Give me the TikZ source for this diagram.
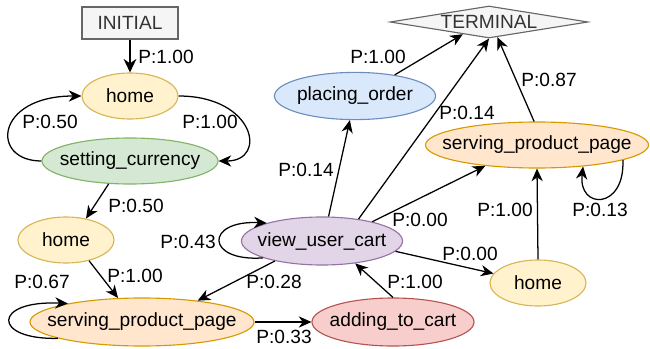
\documentclass[tikz,border=0pt]{standalone}
\usepackage{fontspec}
\setmainfont{Liberation Sans}
\usepackage{tikz}
\usetikzlibrary{shapes.geometric,arrows.meta}
\definecolor{homefill}{HTML}{FFF2CC}
\definecolor{homeline}{HTML}{D6B656}
\definecolor{curfill}{HTML}{D5E8D4}
\definecolor{curline}{HTML}{82B366}
\definecolor{pagefill}{HTML}{FFE6CC}
\definecolor{pageline}{HTML}{D79B00}
\definecolor{cartfill}{HTML}{E1D5E7}
\definecolor{cartline}{HTML}{9673A6}
\definecolor{addfill}{HTML}{F8CECC}
\definecolor{addline}{HTML}{B85450}
\definecolor{orderfill}{HTML}{DAE8FC}
\definecolor{orderline}{HTML}{6C8EBF}
\definecolor{endfill}{HTML}{F5F5F5}
\definecolor{endline}{HTML}{666666}
\definecolor{endtext}{HTML}{333333}
\tikzset{
  st/.style={ellipse, draw, line width=0.8pt, inner sep=0pt, minimum height=1.15cm},
  homest/.style={st, fill=homefill, draw=homeline, minimum width=2.4cm},
  curst/.style={st, fill=curfill, draw=curline, minimum width=4.4cm},
  pagest/.style={st, fill=pagefill, draw=pageline, minimum width=5.6cm, minimum height=1.2cm},
  cartst/.style={st, fill=cartfill, draw=cartline, minimum width=4.025cm, minimum height=1.2cm},
  addst/.style={st, fill=addfill, draw=addline, minimum width=4.05cm, minimum height=1.2cm},
  orderst/.style={st, fill=orderfill, draw=orderline, minimum width=4.025cm, minimum height=1.18cm},
  initbox/.style={rectangle, draw=endline, fill=endfill, text=endtext, line width=0.8pt,
    inner sep=0pt, minimum width=2.4cm, minimum height=0.8cm},
  termbox/.style={diamond, draw=endline, fill=endfill, text=endtext, line width=0.8pt,
    inner sep=0pt, shape aspect=6, minimum width=4.95cm, minimum height=0.8cm},
  tr/.style={draw, line width=0.9pt, -{Stealth[length=9pt, width=8pt, inset=2.8pt]}},
  trb/.style={draw, line width=1.5pt, -{Stealth[length=9.5pt, width=9pt, inset=3pt]}},
  lab/.style={inner sep=0pt, text=black},
}
\newcommand{\stxt}[1]{\makebox[0pt]{#1}}

\begin{document}
\begin{tikzpicture}[x=0.025cm, y=-0.025cm, font=\fontsize{13.6}{16}\selectfont]
  \useasboundingbox (0,0) rectangle (650,348);
  % states
  \node[initbox] (init) at (130,23) {INITIAL};
  \node[termbox] (term) at (489,22) {TERMINAL};
  \node[homest] (homeA) at (130,96) {\stxt{home}};
  \node[curst] (cur) at (130,161) {\stxt{setting\_currency}};
  \node[homest] (homeB) at (66,240) {\stxt{home}};
  \node[pagest] (pageA) at (142,322) {\stxt{serving\_product\_page}};
  \node[cartst] (cart) at (322,241) {\stxt{view\_user\_cart}};
  \node[addst] (add) at (393,322) {\stxt{adding\_to\_cart}};
  \node[homest] (homeC) at (538,283) {\stxt{home}};
  \node[pagest, minimum width=5.575cm, minimum height=1.15cm] (pageB) at (537,145) {\stxt{serving\_product\_page}};
  \node[orderst] (order) at (355,96) {\stxt{placing\_order}};

  % transitions
  \draw[trb] (init.south) -- (homeA.north);
  \draw[tr] (homeA.east) .. controls (255,96) and (268,161) .. (cur.east);
  \draw[tr] (cur.west) .. controls (-10,161) and (-5,96) .. (homeA.west);
  \draw[tr] (cur.227) -- (homeB.47);
  \draw[tr] (homeB.-42) -- (pageA.135);
  \draw[tr] (pageA.191) .. controls (-8,340) and (-8,300) .. (pageA.166);
  \draw[tr] (cart.203) -- (pageA.21);
  \draw[tr] (pageA.east) -- (add.west);
  \draw[tr] (add.north) -- (cart.-34);
  \draw[tr] (cart.196) .. controls (205,262) and (205,220) .. (cart.162);
  \draw[tr] (cart.-8) -- (homeC.168);
  \draw[tr] (cart.21) -- (pageB.202);
  \draw[tr] (cart.75) -- (order.258);
  \draw[tr] (cart.31) -- (term.south);
  \draw[tr] (order.28) -- (term.205);
  \draw[tr] (pageB.97) -- (term.-61);
  \draw[tr] (homeC.north) -- (pageB.south);
  \draw[tr] (pageB.-10) .. controls (625,210) and (578,210) .. (pageB.-25);

  % probabilities
  \node[lab] (pInit) at (166,57) {P:1.00};
  \node[lab] (pCur) at (210,122) {P:1.00};
  \node[lab] (pBack) at (50,122) {P:0.50};
  \node[lab] (pHomeB) at (136,206) {P:0.50};
  \node[lab] (pPageA) at (135,276) {P:1.00};
  \node[lab] (pLoopA) at (42,282) {P:0.67};
  \node[lab] (pCartPage) at (274,282) {P:0.28};
  \node[lab] (pAdd) at (284,337) {P:0.33};
  \node[lab] (pLoopCart) at (188,242) {P:0.43};
  \node[lab] (pAddCart) at (415,282) {P:1.00};
  \node[lab] (pCartHome) at (470,254) {P:0.00};
  \node[lab] (pCartPageB) at (420,220) {P:0.00};
  \node[lab] (pHomePage) at (505,210) {P:1.00};
  \node[lab] (pLoopB) at (600,210) {P:0.13};
  \node[lab] (pOrder) at (378,57) {P:1.00};
  \node[lab] (pPageTerm) at (549,80) {P:0.87};
  \node[lab] (pCartTerm) at (467,113) {P:0.14};
  \node[lab] (pCartOrder) at (306,170) {P:0.14};
\end{tikzpicture}
\end{document}
